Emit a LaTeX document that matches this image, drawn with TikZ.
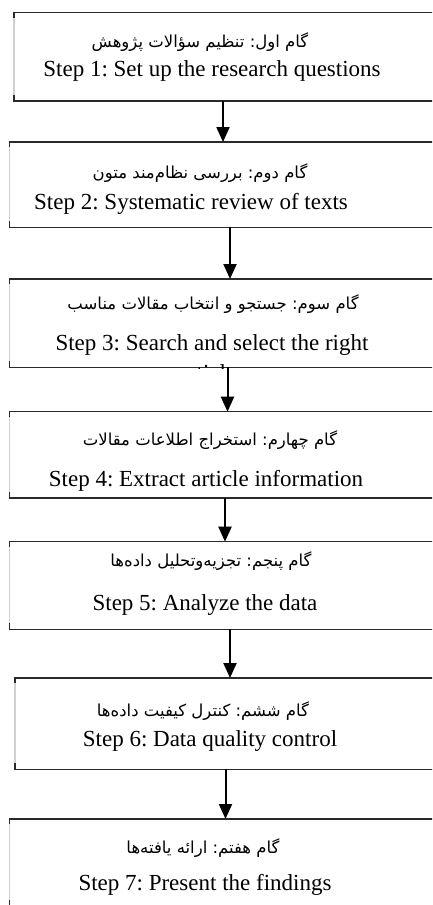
\documentclass[tikz,border=0pt]{standalone}
\usepackage{fontspec}
\setmainfont{Liberation Serif}
\newfontfamily\fa[Script=Arabic]{DejaVu Sans}
\TeXXeTstate=1
\frenchspacing
\usetikzlibrary{arrows.meta}
\definecolor{edgegray}{HTML}{D0D0D0}
\definecolor{linedark}{HTML}{2A2A2A}
\tikzset{
  box/.style={draw=none, rectangle, inner sep=0pt, anchor=north west, minimum width=431pt},
  bord/.style={draw=linedark, line width=1.5pt},
  side/.style={draw=edgegray, line width=1.5pt},
  arr/.style={draw=black, line width=2pt, -{Triangle[width=13pt,length=15pt]}},
  en/.style={anchor=base, inner sep=0pt, font=\frenchspacing\fontsize{23}{27}\selectfont},
  fatxt/.style={anchor=base, inner sep=0pt, font=\frenchspacing\fontsize{16.5}{20}\fa},
}
\begin{document}
\begin{tikzpicture}[x=1pt, y=-1pt]
\useasboundingbox (0,0) rectangle (432,905);
\clip (0,0) rectangle (432,905);
\fill[white] (0,0) rectangle (432,905);
% boxes
\node[box, minimum height=88pt] (b1) at (14,12.5) {};
\node[box, minimum height=85pt] (b2) at (9.5,142) {};
\node[box, minimum height=88pt] (b3) at (9.5,279) {};
\node[box, minimum height=86pt] (b4) at (9.5,411.7) {};
\node[box, minimum height=87.3pt] (b5) at (9.5,541.7) {};
\node[box, minimum height=91pt] (b6) at (15,678) {};
\node[box, minimum height=87pt] (b7) at (9.5,819) {};
\foreach \b in {b1,b2,b3,b4,b5,b6,b7}{
  \draw[side] ([yshift=-5pt]\b.north west) -- ([yshift=6pt]\b.south west);
  \draw[bord] ([yshift=-5pt]\b.north west) -- (\b.north west) -- (\b.north east);
  \draw[bord] ([yshift=6pt]\b.south west) -- (\b.south west) -- (\b.south east);
}
% texts
\node[fatxt] (p1) at (200,47) {\beginR گام اول: تنظیم سؤالات پژوهش\endR};
\node[en] (e1) at (212,76) {Step 1: Set up the research questions};
\node[fatxt] (p2) at (200,178) {\beginR گام دوم: بررسی نظام‌مند متون\endR};
\node[en] (e2) at (191,209) {Step 2: Systematic review of texts};
\node[fatxt] (p3) at (213,309) {\beginR گام سوم: جستجو و انتخاب مقالات مناسب\endR};
\node[en] (e3) at (212,350) {Step 3: Search and select the right};
\begin{scope}
\clip (b3.north west) rectangle ([yshift=-1pt]b3.south east);
\node[en] (e3b) at (212,380) {articles};
\end{scope}
\node[fatxt] (p4) at (210,445) {\beginR گام چهارم: استخراج اطلاعات مقالات\endR};
\node[en] (e4) at (206,486) {Step 4: Extract article information};
\node[fatxt] (p5) at (211,566) {\beginR گام پنجم: تجزیه‌وتحلیل داده‌ها\endR};
\node[en] (e5) at (205,610) {Step 5: Analyze the data};
\node[fatxt] (p6) at (203,716) {\beginR گام ششم: کنترل کیفیت داده‌ها\endR};
\node[en] (e6) at (210,746) {Step 6: Data quality control};
\node[fatxt] (p7) at (203,853) {\beginR گام هفتم: ارائه یافته‌ها\endR};
\node[en] (e7) at (205,890) {Step 7: Present the findings};
% arrows
\coordinate (x1) at (223,0);
\coordinate (x2) at (230,0);
\coordinate (x3) at (227.5,0);
\coordinate (x4) at (225,0);
\coordinate (x5) at (230,0);
\coordinate (x6) at (225.5,0);
\draw[arr] (x1 |- b1.south) -- (x1 |- b2.north);
\draw[arr] (x2 |- b2.south) -- (x2 |- b3.north);
\draw[arr] (x3 |- b3.south) -- (x3 |- b4.north);
\draw[arr] (x4 |- b4.south) -- (x4 |- b5.north);
\draw[arr] (x5 |- b5.south) -- (x5 |- b6.north);
\draw[arr] (x6 |- b6.south) -- (x6 |- b7.north);
\end{tikzpicture}
\end{document}
